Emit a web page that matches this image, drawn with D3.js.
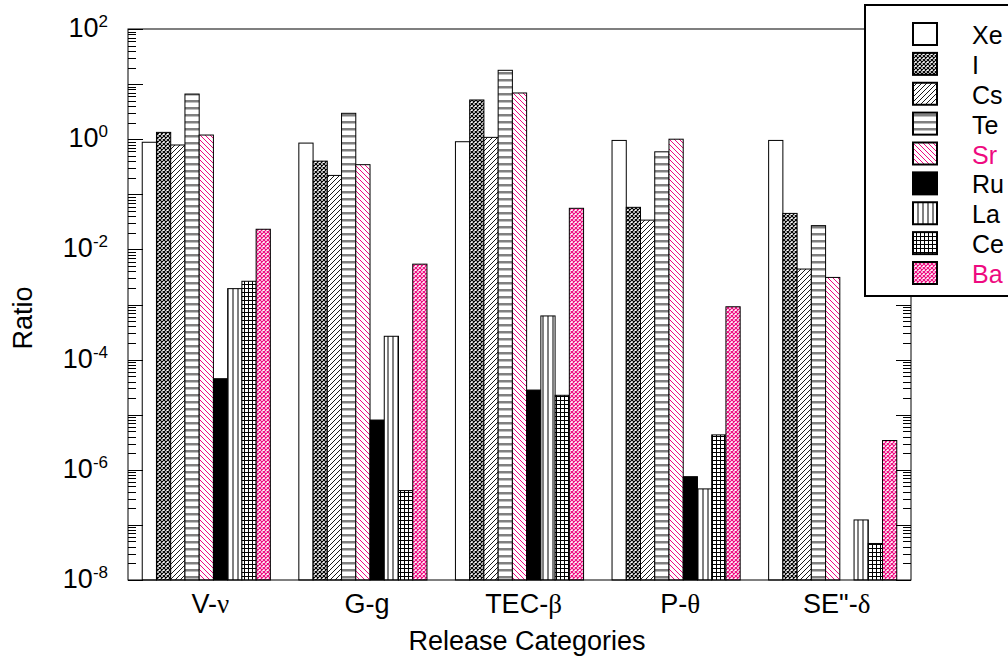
<!DOCTYPE html>
<html>
<head>
<meta charset="utf-8">
<script src="https://cdn.jsdelivr.net/npm/d3@7"></script>
<style>
  html, body { margin: 0; padding: 0; background: #fff; }
  svg { display: block; font-family: "Liberation Sans", Arial, sans-serif; }
</style>
</head>
<body>
<svg id="chart" width="1008" height="659"></svg>
<script>
// ---- data ----
const categories = ["V-ν", "G-g", "TEC-β", "P-θ", "SE\"-δ"];
const categoryLatin = ["V-", "G-g", "TEC-", "P-", "SE\"-"];
const categoryGreek = ["ν", "", "β", "θ", "δ"];
const series = ["Xe", "I", "Cs", "Te", "Sr", "Ru", "La", "Ce", "Ba"];
const Xe = [0.88, 0.85, 0.90, 0.95, 0.95];
const I  = [1.33, 0.40, 5.15, 0.058, 0.045];
const Cs = [0.785, 0.22, 1.08, 0.034, 0.0044];
const Te = [6.6, 2.95, 17.8, 0.59, 0.027];
const Sr = [1.19, 0.345, 6.9, 1.0, 0.0031];
const Ru = [4.5e-5, 8.0e-6, 2.8e-5, 7.5e-7, null];
const La = [1.94e-3, 2.65e-4, 6.2e-4, 4.5e-7, 1.23e-7];
const Ce = [2.64e-3, 4.2e-7, 2.25e-5, 4.3e-6, 4.6e-8];
const Ba = [0.0232, 5.4e-3, 0.0557, 9.1e-4, 3.4e-6];
const values = { Xe, I, Cs, Te, Sr, Ru, La, Ce, Ba };
const yTickExponents = [-8, -6, -4, -2, 0, 2];
const xTitle = "Release Categories";
const yTitle = "Ratio";

// ---- layout ----
const PINK = "#ee0a80";
const GRAY = "#808080";
const L = 128, R = 911, T = 29, B = 580;
const FS = 27;
const svg = d3.select("#chart");

// patterns
const defs = svg.append("defs");
function pat(id, w, h, draw) {
  const p = defs.append("pattern").attr("id", id).attr("patternUnits", "userSpaceOnUse")
    .attr("width", w).attr("height", h);
  p.append("rect").attr("width", w).attr("height", h).attr("fill", "#fff");
  draw(p);
}
function cross(p, col) {
  p.append("path").attr("d", "M0,0 L4,4 M4,0 L0,4").attr("stroke", col).attr("stroke-width", 1.2).attr("fill", "none");
}
pat("pI", 4, 4, p => cross(p, "#000"));
pat("pBa", 4, 4, p => cross(p, PINK));
pat("pCs", 5, 5, p => p.append("path").attr("d", "M0,5 L5,0 M-1,1 L1,-1 M4,6 L6,4")
  .attr("stroke", "#000").attr("stroke-width", 0.9).attr("fill", "none"));
pat("pSr", 5, 5, p => p.append("path").attr("d", "M0,0 L5,5 M-1,4 L1,6 M4,-1 L6,1")
  .attr("stroke", PINK).attr("stroke-width", 1).attr("fill", "none"));
pat("pTe", 7, 7, p => p.append("rect").attr("x", 0).attr("y", 2).attr("width", 7).attr("height", 2.5).attr("fill", GRAY));
pat("pLa", 5, 5, p => p.append("rect").attr("x", 2).attr("y", 0).attr("width", 2).attr("height", 5).attr("fill", GRAY));
pat("pCe", 4, 4, p => p.append("path").attr("d", "M0,0.5 H4 M0.5,0 V4")
  .attr("stroke", "#000").attr("stroke-width", 1).attr("fill", "none"));

const fills = {
  Xe: "#fff", I: "url(#pI)", Cs: "url(#pCs)", Te: "url(#pTe)", Sr: "url(#pSr)",
  Ru: "#000", La: "url(#pLa)", Ce: "url(#pCe)", Ba: "url(#pBa)"
};

// scales
const x0 = d3.scaleBand().domain(categories).range([L, R]).paddingInner(2 / 11).paddingOuter(1 / 11);
const x1 = d3.scaleBand().domain(series).range([0, x0.bandwidth()]);
const y = d3.scaleLog().domain([1e-8, 1e2]).range([B, T]);

// bars
const barData = [];
categories.forEach((c, ci) => series.forEach(s => {
  const v = values[s][ci];
  if (v != null) barData.push({ c, s, v });
}));
svg.append("g").selectAll("rect").data(barData).join("rect")
  .attr("x", d => x0(d.c) + x1(d.s))
  .attr("width", x1.bandwidth())
  .attr("y", d => y(d.v))
  .attr("height", d => B - y(d.v))
  .attr("fill", d => fills[d.s])
  .attr("stroke", "#000")
  .attr("stroke-width", 1);

// frame
const ax = svg.append("g").attr("stroke", "#000").attr("stroke-width", 1).attr("fill", "none");
ax.append("rect").attr("x", L).attr("y", T).attr("width", R - L).attr("height", B - T);

// y ticks (inward, both sides)
const majors = d3.range(-8, 3).map(k => Math.pow(10, k));
const minors = [];
d3.range(-8, 2).forEach(k => { for (let m = 2; m <= 9; m++) minors.push(m * Math.pow(10, k)); });
const tickG = svg.append("g").attr("stroke", "#000").attr("stroke-width", 1);
majors.forEach(v => {
  const yy = Math.round(y(v)) + 0.5;
  tickG.append("line").attr("x1", L).attr("x2", L + 15).attr("y1", yy).attr("y2", yy);
  tickG.append("line").attr("x1", R - 15).attr("x2", R).attr("y1", yy).attr("y2", yy);
});
minors.forEach(v => {
  const yy = Math.round(y(v)) + 0.5;
  tickG.append("line").attr("x1", L).attr("x2", L + 8).attr("y1", yy).attr("y2", yy);
  tickG.append("line").attr("x1", R - 8).attr("x2", R).attr("y1", yy).attr("y2", yy);
});

// y tick labels
const yl = svg.append("g").attr("font-size", FS).attr("fill", "#000");
yTickExponents.forEach(k => {
  const t = yl.append("text").attr("x", 108).attr("y", y(Math.pow(10, k)) + 8).attr("text-anchor", "end");
  t.append("tspan").text("10");
  t.append("tspan").attr("dy", -10).attr("font-size", 17).text(String(k));
});

// x tick labels
const xl = svg.append("g").attr("font-size", FS).attr("fill", "#000");
categories.forEach((c, i) => {
  const t = xl.append("text").attr("x", x0(c) + x0.bandwidth() / 2 + 4).attr("y", 613).attr("text-anchor", "middle");
  t.append("tspan").text(categoryLatin[i]);
  if (categoryGreek[i]) t.append("tspan").attr("font-family", "'Liberation Serif', 'Times New Roman', serif").text(categoryGreek[i]);
});

// titles
svg.append("text").attr("x", 527).attr("y", 650).attr("text-anchor", "middle")
  .attr("font-size", FS).text(xTitle);
svg.append("text").attr("transform", "translate(32,318) rotate(-90)").attr("text-anchor", "middle")
  .attr("font-size", FS).text(yTitle);

// legend
const lg = svg.append("g");
lg.append("rect").attr("x", 865).attr("y", 5).attr("width", 160).attr("height", 291)
  .attr("fill", "#fff").attr("stroke", "#000").attr("stroke-width", 2);
const legendY = d3.scalePoint().domain(series).range([34, 273]);
series.forEach(s => {
  const cy = legendY(s);
  lg.append("rect").attr("x", 913).attr("y", cy - 11).attr("width", 24).attr("height", 22)
    .attr("fill", fills[s]).attr("stroke", "#000").attr("stroke-width", 2);
  lg.append("text").attr("x", 972).attr("y", cy + 10).attr("font-size", 25)
    .attr("fill", (s === "Sr" || s === "Ba") ? PINK : "#000").text(s);
});
</script>
</body>
</html>
